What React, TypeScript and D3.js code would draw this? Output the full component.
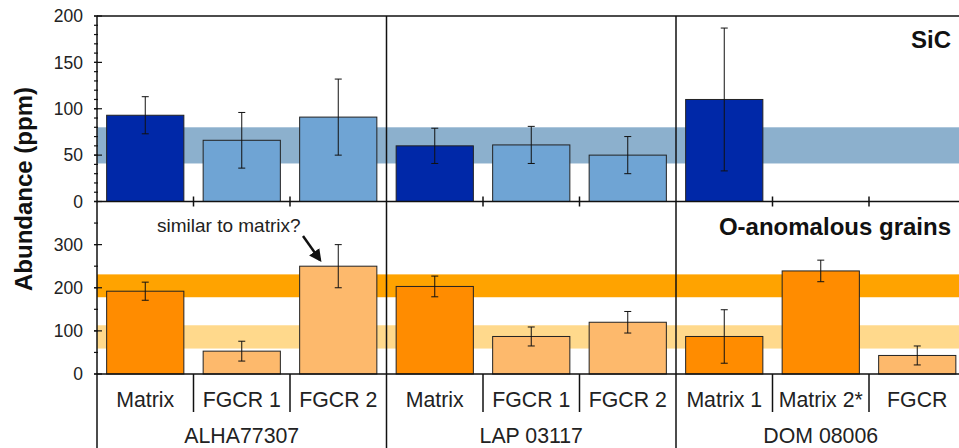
import React from "react";
import * as d3 from "d3";

const groups = ["ALHA77307", "LAP 03117", "DOM 08006"];
const categories = [
  ["Matrix", "FGCR 1", "FGCR 2"],
  ["Matrix", "FGCR 1", "FGCR 2"],
  ["Matrix 1", "Matrix 2*", "FGCR"],
];
// SiC abundance (ppm) and 1-sigma errors, by group then category
const sicValues = [93, 66, 91, 60, 61, 50, 110, null, null];
const sicErrors = [20, 30, 41, 19, 20, 20, 77, null, null];
// O-anomalous grain abundance (ppm)
const oValues = [192, 53, 250, 203, 87, 120, 87, 239, 43];
const oErrors = [21, 23, 50, 24, 22, 25, 62, 25, 22];
// reference ranges
const sicBand = [41, 80];
const oBandHigh = [178, 231];
const oBandLow = [59, 113];
const sicTicks = [0, 50, 100, 150, 200];
const oTicks = [0, 100, 200, 300];

const W = 959;
const H = 448;
const FONT = "'Liberation Sans', Arial, Helvetica, sans-serif";

const COL = {
  sicDark: "#0028a8",
  sicLight: "#6fa4d4",
  sicBand: "#8cb0cd",
  oDark: "#ff8c00",
  oLight: "#fdb96c",
  oBandHigh: "#ffa300",
  oBandLow: "#ffd98c",
};

export default function App() {
  const left = 97;
  const groupW = 289.5;
  const right = left + groupW * 3;

  const x0 = d3.scaleBand<string>().domain(groups).range([left, right]);
  const x1 = d3
    .scaleBand<number>()
    .domain([0, 1, 2])
    .range([0, groupW])
    .paddingInner(0.2)
    .paddingOuter(0.1);

  const yTop = d3.scaleLinear().domain([0, 200]).range([201.5, 16]);
  const yBot = d3.scaleLinear().domain([0, 400]).range([374, 201.5]);

  const bars: any[] = [];
  groups.forEach((g, gi) => {
    categories[gi].forEach((c, ci) => {
      const i = gi * 3 + ci;
      bars.push({
        g,
        ci,
        matrix: c.startsWith("Matrix"),
        sic: sicValues[i],
        sicErr: sicErrors[i],
        o: oValues[i],
        oErr: oErrors[i],
        label: c,
      });
    });
  });

  const step = x1.step();
  const bw = x1.bandwidth();

  const renderBar = (d: any, key: string, y: any, v: number | null, e: number | null, dark: string, light: string) => {
    if (v == null) return null;
    const x = x0(d.g)! + x1(d.ci)!;
    const cx = x + bw / 2;
    return (
      <g key={key}>
        <rect
          x={x}
          y={y(v)}
          width={bw}
          height={y(0) - y(v)}
          fill={d.matrix ? dark : light}
          stroke="#222"
          strokeWidth={1}
        />
        {e != null && (
          <g stroke="#111" strokeWidth={1}>
            <line x1={cx} x2={cx} y1={y(v + e)} y2={y(v - e)} />
            <line x1={cx - 3.5} x2={cx + 3.5} y1={y(v + e)} y2={y(v + e)} />
            <line x1={cx - 3.5} x2={cx + 3.5} y1={y(v - e)} y2={y(v - e)} />
          </g>
        )}
      </g>
    );
  };

  const minorTop = d3.range(0, 201, 10);
  const minorBot = d3.range(0, 401, 50);

  // category boundaries inside groups
  const bounds: number[] = [];
  groups.forEach((g) => {
    [1, 2].forEach((k) => bounds.push(x0(g)! + k * step));
  });

  return (
    <svg
      width={W}
      height={H}
      style={{ position: "absolute", left: 0, top: 0, background: "#fff" }}
      fontFamily={FONT}
    >
      <defs>
        <marker id="arrow" viewBox="0 0 10 10" refX="8" refY="5" markerWidth="5" markerHeight="5" orient="auto">
          <path d="M0,0 L10,5 L0,10 z" fill="#111" />
        </marker>
      </defs>

      {/* reference bands */}
      <rect x={left} width={right - left} y={yTop(sicBand[1])} height={yTop(sicBand[0]) - yTop(sicBand[1])} fill={COL.sicBand} />
      <rect x={left} width={right - left} y={yBot(oBandHigh[1])} height={yBot(oBandHigh[0]) - yBot(oBandHigh[1])} fill={COL.oBandHigh} />
      <rect x={left} width={right - left} y={yBot(oBandLow[1])} height={yBot(oBandLow[0]) - yBot(oBandLow[1])} fill={COL.oBandLow} />

      {bars.map((d, i) => renderBar(d, "s" + i, yTop, d.sic, d.sicErr, COL.sicDark, COL.sicLight))}
      {bars.map((d, i) => renderBar(d, "o" + i, yBot, d.o, d.oErr, COL.oDark, COL.oLight))}

      {/* frame lines */}
      <g stroke="#111" strokeWidth={1.5}>
        <line x1={left} x2={right} y1={yTop(200)} y2={yTop(200)} />
        <line x1={left} x2={right} y1={yTop(0)} y2={yTop(0)} />
        <line x1={left} x2={right} y1={yBot(0)} y2={yBot(0)} />
        {groups.map((g) => (
          <line key={g} x1={x0(g)!} x2={x0(g)!} y1={yTop(200)} y2={H} />
        ))}
        <line x1={right} x2={right} y1={yTop(200)} y2={H} />
        {bounds.map((b, i) => (
          <g key={i}>
            <line x1={b} x2={b} y1={yTop(0) - 5} y2={yTop(0) + 5} />
            <line x1={b} x2={b} y1={yBot(0)} y2={yBot(0) + 38} />
          </g>
        ))}
      </g>

      {/* y axes */}
      <g stroke="#111" strokeWidth={1.2}>
        {minorTop.map((t) => (
          <line key={"mt" + t} x1={left - 3} x2={left + 1} y1={yTop(t)} y2={yTop(t)} />
        ))}
        {sicTicks.map((t) => (
          <line key={"Mt" + t} x1={left - 3} x2={left + 5} y1={yTop(t)} y2={yTop(t)} />
        ))}
        {minorBot.map((t) => (
          <line key={"mb" + t} x1={left - 3} x2={left + 1} y1={yBot(t)} y2={yBot(t)} />
        ))}
        {oTicks.map((t) => (
          <line key={"Mb" + t} x1={left - 3} x2={left + 5} y1={yBot(t)} y2={yBot(t)} />
        ))}
      </g>
      <g fontSize={17.5} fill="#222" textAnchor="end">
        {sicTicks.map((t) => (
          <text key={"lt" + t} x={83} y={yTop(t)} dy="0.36em">
            {t}
          </text>
        ))}
        {oTicks.map((t) => (
          <text key={"lb" + t} x={83} y={yBot(t)} dy="0.36em">
            {t}
          </text>
        ))}
      </g>

      <text
        transform={`translate(32,189) rotate(-90)`}
        textAnchor="middle"
        fontSize={24}
        fontWeight="bold"
        fill="#111"
      >
        Abundance (ppm)
      </text>

      {/* category and group labels */}
      <g fontSize={21.3} fill="#222" textAnchor="middle">
        {bars.map((d, i) => (
          <text key={"c" + i} x={x0(d.g)! + x1(d.ci)! + bw / 2} y={406.5}>
            {d.label}
          </text>
        ))}
        {groups.map((g) => (
          <text key={"g" + g} x={x0(g)! + groupW / 2} y={443}>
            {g}
          </text>
        ))}
      </g>

      <text x={951} y={48} textAnchor="end" fontSize={24} fontWeight="bold" fill="#111">
        SiC
      </text>
      <text x={951} y={235} textAnchor="end" fontSize={24} fontWeight="bold" fill="#111">
        O-anomalous grains
      </text>

      <text x={157} y={231.5} fontSize={19} fill="#222">
        similar to matrix?
      </text>
      <line x1={303} y1={236} x2={320} y2={260} stroke="#111" strokeWidth={2.5} markerEnd="url(#arrow)" />
    </svg>
  );
}
